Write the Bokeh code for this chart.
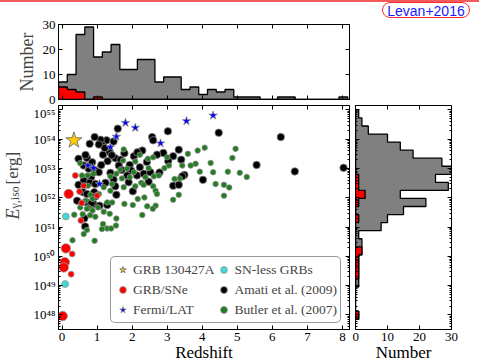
import numpy as np
from bokeh.plotting import figure
from bokeh.layouts import column, row
from bokeh.models import (Range1d, LinearAxis, LogAxis, Label, Legend, LegendItem,
                          CustomJSTickFormatter, FixedTicker, Div)
from bokeh.embed import file_html
from bokeh.resources import INLINE

# ---------------- data (redshift z, log10 E_iso [erg]) ----------------
grb130427a_z = [0.34]
grb130427a_logE = [53.96]

sne_bright_z = [0.19, 0.11, 0.08, 0.05, 0.02]
sne_bright_logE = [52.13, 50.27, 49.80, 49.62, 47.96]
sne_z = [0.38, 0.50, 0.62, 1.00, 0.56, 0.54, 0.29, 0.26]
sne_logE = [52.76, 52.21, 52.41, 52.07, 51.82, 51.22, 50.08, 49.39]

snless_z = [0.11, 0.09]
snless_logE = [51.36, 49.05]

lat_z = [0.74, 0.90, 1.07, 1.38, 1.55, 1.81, 2.09, 2.81, 3.55, 4.31]
lat_logE = [53.10, 53.02, 52.47, 53.73, 54.09, 54.56, 54.39, 53.86, 54.62, 54.81]

amati_z = [4.47, 6.24, 5.55, 6.64, 8.03, 4.02, 3.33, 3.17, 3.40, 3.49, 3.43, 3.17, 3.33,
           1.59, 3.02, 1.27, 1.47, 2.57, 2.60, 1.14, 2.29, 2.89, 2.71, 1.17, 1.36, 1.52,
           1.67, 2.05, 3.03, 1.62, 1.93, 2.22, 1.97, 2.14, 2.33, 2.52, 1.86, 1.47, 1.24,
           1.52, 1.90, 1.55, 1.29,
           1.10, 1.22, 1.42, 1.30, 1.12, 1.78, 2.15, 2.42, 2.78, 2.47, 2.02, 1.38, 1.70,
           0.93, 1.05, 0.79, 0.71, 0.86, 0.62, 0.76, 0.47, 0.67, 0.95, 0.83, 0.62, 0.79,
           0.47, 0.95, 1.05, 0.60, 0.92, 0.71, 0.95, 0.43, 0.90, 0.71, 1.07, 0.84, 0.64, 0.66]
amati_logE = [54.22, 54.07, 53.12, 52.90, 53.02, 52.61, 53.64, 53.42, 53.30, 52.78, 52.73, 52.41, 52.44,
              54.36, 54.27, 53.96, 53.92, 54.07, 53.96, 53.81, 53.61, 53.53, 53.47, 53.47, 53.56, 53.35,
              53.30, 53.42, 53.25, 53.10, 53.12, 53.04, 52.93, 52.76, 52.82, 52.87, 52.76, 52.62, 52.51,
              52.39, 52.53, 52.10, 51.75,
              53.98, 53.70, 53.45, 53.25, 53.12, 53.52, 53.55, 53.22, 52.86, 52.55, 52.22, 52.85, 52.95,
              54.07, 53.82, 53.84, 53.36, 53.21, 53.10, 52.99, 53.33, 53.46, 52.93, 52.70, 52.59, 52.51,
              52.44, 52.47, 52.87, 52.19, 52.19, 52.13, 52.04, 51.90, 51.79, 51.84, 51.73, 51.81, 51.30, 51.02]

butler_z = [3.59, 3.87, 4.07, 4.95, 4.86, 4.24, 3.81, 3.67, 3.43, 3.93, 4.31, 4.73, 5.07, 5.27,
            3.36, 3.21, 4.38, 4.62, 4.77, 4.62, 3.33, 3.17,
            1.76, 2.45, 2.60, 3.00, 1.74, 2.09, 2.22, 2.92, 3.05, 2.47, 1.86, 1.67, 1.55, 1.38,
            2.05, 1.93, 1.71, 2.38, 2.62, 2.76, 2.26, 2.33, 2.60, 2.09, 1.76, 1.43, 1.19, 1.38,
            2.67, 2.71, 2.35, 2.16, 1.78, 2.02, 2.43, 2.67, 2.59, 2.29, 1.29, 1.43, 1.19, 1.36,
            1.55, 1.17, 1.54, 1.29, 1.40, 1.14,
            0.52, 0.90, 0.74, 1.05, 0.81, 0.67, 0.87, 1.03, 0.76, 0.35, 0.59, 0.71, 0.87, 0.95,
            0.71, 0.62, 0.30, 0.93, 0.52, 0.73, 0.57, 0.60, 0.80]
butler_logE = [53.50, 53.61, 53.71, 53.67, 53.36, 53.19, 53.16, 53.10, 53.10, 52.89, 52.87, 52.89, 52.85, 52.71,
               52.66, 52.64, 52.47, 52.44, 52.35, 52.07, 52.10, 51.93,
               53.65, 53.33, 53.38, 53.38, 53.27, 53.24, 53.47, 53.01, 53.10, 53.01, 52.99, 52.96, 52.82, 52.73,
               52.87, 52.70, 52.66, 52.70, 52.73, 52.76, 52.51, 52.44, 52.39, 52.39, 52.36, 52.47, 52.36, 52.24,
               52.24, 52.13, 52.01, 51.96, 51.79, 51.75, 51.71, 51.73, 51.62, 51.41, 51.84, 51.84, 51.52, 51.45,
               51.29, 51.10, 51.05, 50.95, 50.95, 50.93,
               53.18, 52.82, 52.41, 52.13, 52.10, 51.90, 51.96, 51.67, 51.67, 51.42, 51.44, 51.62, 51.56, 51.35,
               50.90, 50.76, 50.55, 50.53, 51.67, 52.76, 52.76, 51.84, 51.40]

# redshift histogram (top panel)
zhist_edges = [-0.10, 0.15, 0.40, 0.65, 0.90, 1.15, 1.40, 1.65, 1.90, 2.15, 2.40, 2.65, 2.90,
               3.15, 3.40, 3.65, 3.90, 4.15, 4.40, 4.65, 4.90, 5.15, 5.40, 5.65, 5.90, 6.15,
               6.40, 6.65, 6.90, 7.15, 7.40, 7.65, 7.90, 8.15]
zhist_all = [7, 10, 26, 29, 17, 19, 22, 12, 12, 16, 16, 7, 9, 9, 4, 5, 2, 4, 3, 4,
             1, 1, 1, 0, 0, 1, 1, 0, 0, 0, 0, 0, 1]
zhist_sne = [5, 4, 3, 0, 1, 0, 0, 0, 0, 0, 0, 0, 0, 0, 0, 0, 0, 0, 0, 0,
             0, 0, 0, 0, 0, 0, 0, 0, 0, 0, 0, 0, 0]

# energy histogram (right panel), log10 E edges
ehist_log_edges = [47.85, 48.125, 48.40, 48.675, 48.95, 49.225, 49.50, 49.775, 50.05, 50.325,
                   50.60, 50.875, 51.15, 51.425, 51.70, 51.975, 52.25, 52.525, 52.80, 53.075,
                   53.35, 53.625, 53.90, 54.175, 54.45, 54.725, 55.00]
ehist_all = [1, 0, 0, 0, 1, 1, 1, 1, 2, 2, 1, 8, 10, 15, 22, 14, 29, 25, 31, 27, 18, 14, 10, 4, 2, 1]
ehist_sne = [1, 0, 0, 0, 0, 1, 1, 1, 2, 0, 0, 0, 1, 0, 1, 3, 1, 1, 0, 0, 0, 0, 0, 0, 0, 0]

z_ticks = [0, 1, 2, 3, 4, 5, 6, 7, 8]
count_ticks = [0, 10, 20, 30]
logE_ticks = [48, 49, 50, 51, 52, 53, 54, 55]

# ---------------- helpers ----------------
FONT = "Liberation Serif"


def pw(v):
    return [10.0 ** a for a in v]


def step_outline(edges, counts):
    xs, ys = [edges[0]], [0]
    for i, c in enumerate(counts):
        xs += [edges[i], edges[i + 1]]
        ys += [c, c]
    xs.append(edges[-1])
    ys.append(0)
    return xs, ys


def style_axis(ax, labels=True):
    ax.axis_line_color = "black"
    ax.axis_line_width = 1
    ax.major_tick_in = 4
    ax.major_tick_out = 0
    ax.minor_tick_in = 2
    ax.minor_tick_out = 0
    ax.major_tick_line_color = "black"
    ax.minor_tick_line_color = "black"
    ax.major_label_text_font = FONT
    ax.major_label_text_color = "black"
    if labels:
        ax.major_label_text_font_size = "13px"
        ax.major_label_standoff = 3
    else:
        ax.major_label_text_font_size = "0px"
        ax.major_label_standoff = 0
        ax.major_label_text_alpha = 0


def axis_title(ax, text):
    ax.axis_label = text
    ax.axis_label_text_font = FONT
    ax.axis_label_text_font_size = "17px"
    ax.axis_label_text_font_style = "normal"
    ax.axis_label_text_color = "black"
    ax.axis_label_standoff = -1


x_ticker = FixedTicker(ticks=z_ticks)
c_ticker = FixedTicker(ticks=count_ticks)
log_ticker = FixedTicker(ticks=pw(logE_ticks),
                         minor_ticks=[k * 10.0 ** n for n in range(47, 56) for k in range(2, 10)])
sup_fmt = CustomJSTickFormatter(code="""
const m = {"0":"\u2070","1":"\u00b9","2":"\u00b2","3":"\u00b3","4":"\u2074","5":"\u2075",
           "6":"\u2076","7":"\u2077","8":"\u2078","9":"\u2079","-":"\u207b"};
const e = Math.round(Math.log10(tick));
return "10" + String(e).split("").map(c => m[c]).join("");
""")

XR = Range1d(-0.1, 8.2)
YR = Range1d(10 ** 47.5, 10 ** 55.15)


def base_fig(**kw):
    f = figure(output_backend="svg", toolbar_location=None, **kw)
    f.grid.visible = False
    f.outline_line_color = "black"
    f.outline_line_width = 1
    f.background_fill_color = "white"
    f.border_fill_color = "white"
    return f


def blank_fig(width, height, color="white"):
    f = figure(width=width, height=height, output_backend="svg", toolbar_location=None,
               x_axis_type=None, y_axis_type=None, x_range=Range1d(0, 1), y_range=Range1d(0, 1),
               min_border=0, min_border_left=0, min_border_right=0,
               min_border_top=0, min_border_bottom=0)
    f.grid.visible = False
    f.outline_line_color = None
    f.background_fill_color = color
    f.border_fill_color = color
    return f


# ---------------- thin red strip at the very top ----------------
strip = Div(text="", width=479, height=2, margin=0,
            styles={"background-color": "#f05a5a", "overflow": "hidden"})

# ---------------- top histogram ----------------
top = base_fig(width=352, height=103, x_range=XR, y_range=Range1d(0, 30),
               min_border_left=58, min_border_right=3, min_border_top=22, min_border_bottom=6)
xs, ys = step_outline(zhist_edges, zhist_all)
top.patch(xs, ys, fill_color="#808080", line_color="black", line_width=1.3)
xs, ys = step_outline(zhist_edges, zhist_sne)
top.patch(xs, ys, fill_color="#ff0000", line_color="black", line_width=1.3)
top.xaxis.ticker = x_ticker
style_axis(top.xaxis[0], labels=False)
top.yaxis.ticker = c_ticker
style_axis(top.yaxis[0])
top.yaxis.axis_label = "Number"
top.yaxis.axis_label_text_font = FONT
top.yaxis.axis_label_text_font_size = "18px"
top.yaxis.axis_label_text_font_style = "normal"
top.yaxis.axis_label_standoff = 3
ax = LinearAxis(ticker=x_ticker); style_axis(ax, labels=False); top.add_layout(ax, "above")
ax = LinearAxis(ticker=c_ticker); style_axis(ax, labels=False); top.add_layout(ax, "right")

# header corner with the tag
header = Div(
    text=('<div style="margin:0 0 0 30px; width:88px; height:16px; padding:0 2px; '
          'border:1.5px solid #ff2a2a; border-radius:9px; background:white; '
          'color:#1a1aff; font-family:\'Liberation Sans\', Arial, sans-serif; '
          'font-size:14px; line-height:16px; text-align:center; white-space:nowrap;">'
          'Levan+2016</div>'),
    width=127, height=103, margin=0)

# ---------------- y-axis title column ----------------
ylab = blank_fig(22, 259)
ylab.add_layout(Label(x=12, y=110, x_units="screen", y_units="screen", text="E",
                      angle=np.pi / 2, text_font=FONT, text_font_style="italic",
                      text_font_size="18px", text_align="left", text_baseline="middle"))
ylab.add_layout(Label(x=14.5, y=121, x_units="screen", y_units="screen", text="\u03b3,iso",
                      angle=np.pi / 2, text_font=FONT, text_font_size="12px",
                      text_align="left", text_baseline="middle"))
ylab.add_layout(Label(x=12, y=145, x_units="screen", y_units="screen", text="[erg]",
                      angle=np.pi / 2, text_font=FONT, text_font_size="17px",
                      text_align="left", text_baseline="middle"))

# ---------------- main scatter ----------------
main = base_fig(width=330, height=259, x_range=XR, y_range=YR, y_axis_type="log",
                min_border_left=36, min_border_right=3, min_border_top=0, min_border_bottom=35)
r_amati = main.scatter(amati_z, pw(amati_logE), marker="circle", size=7.5,
                       fill_color="black", line_color="#8a8a8a", line_width=0.8)
r_butler = main.scatter(butler_z, pw(butler_logE), marker="circle", size=5.5,
                        fill_color="#1f7f1f", line_color="#8a8a8a", line_width=0.8)
r_sne_big = main.scatter(sne_bright_z, pw(sne_bright_logE), marker="circle", size=9.5,
                         fill_color="#ff0000", line_color="#9a9a9a", line_width=0.8)
r_sne = main.scatter(sne_z, pw(sne_logE), marker="circle", size=6,
                     fill_color="#ff0000", line_color="#9a9a9a", line_width=0.8)
r_cyan = main.scatter(snless_z, pw(snless_logE), marker="circle", size=7,
                      fill_color="#3fd6d6", line_color="#9a9a9a", line_width=0.8)
r_lat = main.scatter(lat_z, pw(lat_logE), marker="star", size=9,
                     fill_color="#0000ff", line_color="#8a8a8a", line_width=0.8)
r_star = main.scatter(grb130427a_z, pw(grb130427a_logE), marker="star", size=17,
                      fill_color="#ffcc00", line_color="#7a7a7a", line_width=1)

main.xaxis.ticker = x_ticker
style_axis(main.xaxis[0])
axis_title(main.xaxis[0], "Redshift")
main.yaxis.ticker = log_ticker
main.yaxis.formatter = sup_fmt
style_axis(main.yaxis[0])
ax = LinearAxis(ticker=x_ticker); style_axis(ax, labels=False); main.add_layout(ax, "above")
ax = LogAxis(ticker=log_ticker); style_axis(ax, labels=False); main.add_layout(ax, "right")

legend = Legend(items=[
    LegendItem(label="GRB 130427A", renderers=[r_star]),
    LegendItem(label="GRB/SNe", renderers=[r_sne_big]),
    LegendItem(label="Fermi/LAT", renderers=[r_lat]),
    LegendItem(label="SN-less GRBs", renderers=[r_cyan]),
    LegendItem(label="Amati et al. (2009)", renderers=[r_amati]),
    LegendItem(label="Butler et al. (2007)", renderers=[r_butler]),
], location=(52, 6), nrows=3)
legend.label_text_font = FONT
legend.label_text_font_size = "13.5px"
legend.border_line_color = "#333333"
legend.border_line_width = 1.3
legend.border_radius = 5
legend.background_fill_alpha = 1
legend.glyph_width = 17
legend.glyph_height = 19
legend.label_height = 19
legend.spacing = 1
legend.padding = 3
legend.margin = 0
legend.label_standoff = 2
main.add_layout(legend)

# ---------------- right histogram ----------------
right = base_fig(width=127, height=259, x_range=Range1d(0, 30), y_range=YR, y_axis_type="log",
                 min_border_left=3, min_border_right=28, min_border_top=0, min_border_bottom=35)
ys_, xs_ = step_outline(ehist_log_edges, ehist_all)
right.patch(xs_, pw(ys_), fill_color="#808080", line_color="black", line_width=1.3)
ys_, xs_ = step_outline(ehist_log_edges, ehist_sne)
right.patch(xs_, pw(ys_), fill_color="#ff0000", line_color="black", line_width=1.3)
right.xaxis.ticker = c_ticker
style_axis(right.xaxis[0])
axis_title(right.xaxis[0], "Number")
right.yaxis.ticker = log_ticker
style_axis(right.yaxis[0], labels=False)
ax = LinearAxis(ticker=c_ticker); style_axis(ax, labels=False); right.add_layout(ax, "above")
ax = LogAxis(ticker=log_ticker); style_axis(ax, labels=False); right.add_layout(ax, "right")

layout = column(strip, row(top, header), row(ylab, main, right))
open("out.html", "w").write(file_html(layout, INLINE))
